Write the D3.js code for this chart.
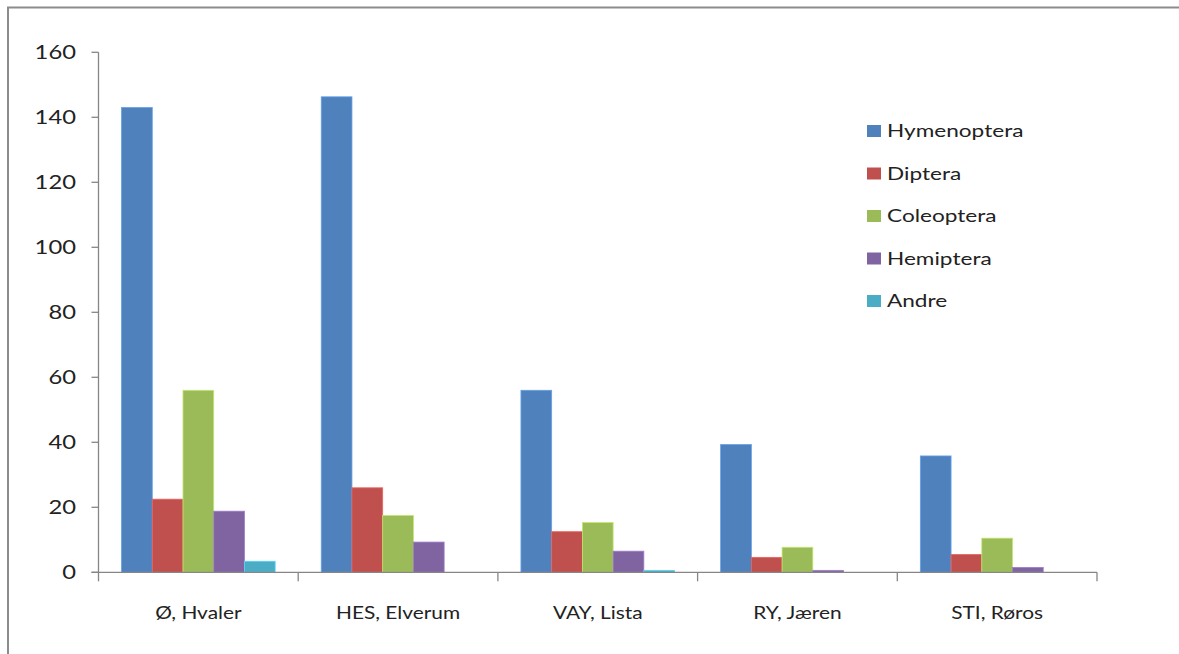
<!DOCTYPE html>
<html>
<head>
<meta charset="utf-8">
<script src="https://cdn.jsdelivr.net/npm/d3@7"></script>
<style>
  html, body { margin: 0; padding: 0; background: #fff; }
  svg { display: block; }
  text { font-family: Lato, "Open Sans", sans-serif; fill: #222; }
</style>
</head>
<body>
<svg id="chart" width="1179" height="654"></svg>
<script>
const categories = ["Ø, Hvaler", "HES, Elverum", "VAY, Lista", "RY, Jæren", "STI, Røros"];
const seriesNames = ["Hymenoptera", "Diptera", "Coleoptera", "Hemiptera", "Andre"];
const hymenoptera = [143, 146.3, 56, 39.3, 35.8];
const diptera     = [22.5, 26, 12.5, 4.6, 5.5];
const coleoptera  = [56, 17.5, 15.3, 7.7, 10.5];
const hemiptera   = [18.8, 9.3, 6.5, 0.6, 1.5];
const andre       = [3.4, 0, 0.6, 0, 0];
const yTicks = [0, 20, 40, 60, 80, 100, 120, 140, 160];
const colors = ["#4F81BD", "#C0504D", "#9BBB59", "#8064A2", "#4BACC6"];

const seriesValues = [hymenoptera, diptera, coleoptera, hemiptera, andre];

const svg = d3.select("#chart");
const axisColor = "#868686";

// outer frame (top and left visible)
svg.append("path")
  .attr("d", "M8,654 L8,7.5 L1179,7.5")
  .attr("fill", "none").attr("stroke", "#8c8c8c").attr("stroke-width", 2);

const x0 = 98.5, x1 = 1097, yTop = 52.3, yBot = 572.3;
const x = d3.scaleBand().domain(categories).range([x0, x1]).paddingInner(0).paddingOuter(0);
const bw = x.bandwidth() / 6.5;
const xs = d3.scaleBand().domain(seriesNames).range([0.75 * bw, x.bandwidth() - 0.75 * bw]).padding(0);
const y = d3.scaleLinear().domain([0, 160]).range([yBot, yTop]);

// bars
seriesNames.forEach((s, si) => {
  svg.append("g").selectAll("rect")
    .data(categories.map((c, ci) => ({ c, v: seriesValues[si][ci] })).filter(d => d.v > 0))
    .join("rect")
    .attr("x", d => x(d.c) + xs(s))
    .attr("width", xs.bandwidth())
    .attr("y", d => y(d.v))
    .attr("height", d => y(0) - y(d.v))
    .attr("fill", colors[si])
    .attr("stroke", d3.color(colors[si]).brighter(0.6))
    .attr("stroke-width", 0.8);
});

// y axis
const ya = svg.append("g");
ya.append("line").attr("x1", x0).attr("x2", x0).attr("y1", yTop).attr("y2", yBot)
  .attr("stroke", axisColor).attr("stroke-width", 1.3);
yTicks.forEach(t => {
  ya.append("line").attr("x1", x0 - 7).attr("x2", x0).attr("y1", y(t)).attr("y2", y(t))
    .attr("stroke", axisColor).attr("stroke-width", 1.3);
  ya.append("g").attr("transform", `translate(76,${y(t)}) scale(1.22,1)`)
    .append("text").attr("text-anchor", "end").attr("dy", "0.36em")
    .style("font-size", "19.5px").text(t);
});

// x axis
const xa = svg.append("g");
xa.append("line").attr("x1", x0 - 7).attr("x2", x1).attr("y1", yBot).attr("y2", yBot)
  .attr("stroke", axisColor).attr("stroke-width", 1.3);
const edges = categories.map(c => x(c)).concat([x1]);
edges.forEach(e => {
  xa.append("line").attr("x1", e).attr("x2", e).attr("y1", yBot).attr("y2", yBot + 9)
    .attr("stroke", axisColor).attr("stroke-width", 1.3);
});
categories.forEach(c => {
  xa.append("g").attr("transform", `translate(${x(c) + x.bandwidth() / 2},613) scale(1.16,1)`)
    .append("text").attr("text-anchor", "middle").attr("dy", "0.36em")
    .style("font-size", "18px").text(c);
});

// legend
const lg = svg.append("g");
seriesNames.forEach((s, i) => {
  const cy = 131 + i * 42.5;
  lg.append("rect").attr("x", 867).attr("y", cy - 6).attr("width", 14).attr("height", 12)
    .attr("fill", colors[i]);
  lg.append("g").attr("transform", `translate(887,${cy}) scale(1.33,1)`)
    .append("text").attr("dy", "0.36em").style("font-size", "17px").text(s);
});
</script>
</body>
</html>
